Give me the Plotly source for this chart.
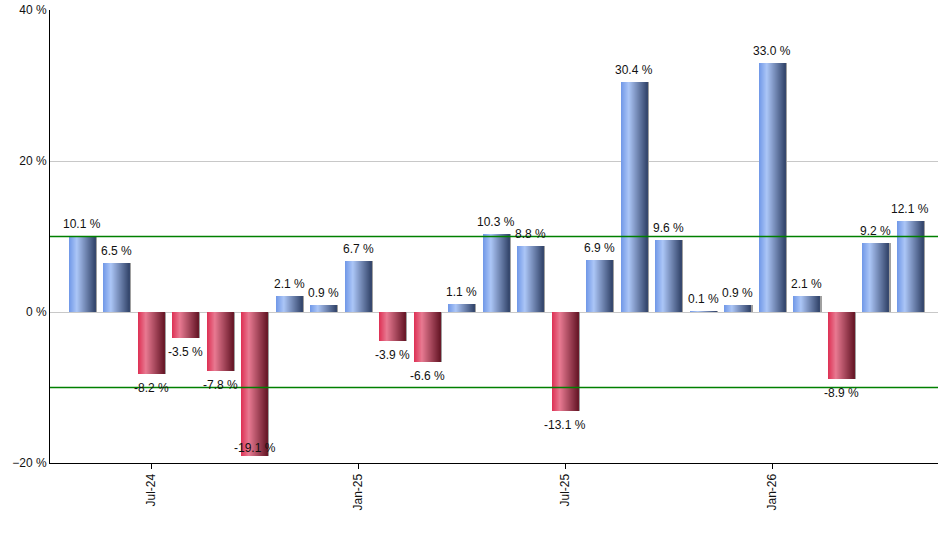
import numpy as np
import plotly.graph_objects as go

# monthly returns, May-24 .. May-26
months = ['May-24', 'Jun-24', 'Jul-24', 'Aug-24', 'Sep-24', 'Oct-24', 'Nov-24', 'Dec-24',
          'Jan-25', 'Feb-25', 'Mar-25', 'Apr-25', 'May-25', 'Jun-25', 'Jul-25', 'Aug-25',
          'Sep-25', 'Oct-25', 'Nov-25', 'Dec-25', 'Jan-26', 'Feb-26', 'Mar-26', 'Apr-26', 'May-26']
returns = [10.1, 6.5, -8.2, -3.5, -7.8, -19.1, 2.1, 0.9, 6.7, -3.9, -6.6, 1.1, 10.3, 8.8,
           -13.1, 6.9, 30.4, 9.6, 0.1, 0.9, 33.0, 2.1, -8.9, 9.2, 12.1]
tick_labels = ['Jul-24', 'Jan-25', 'Jul-25', 'Jan-26']
upper_band = 10
lower_band = -10
y_min, y_max = -20, 40

x = np.arange(len(months))
vals = np.array(returns)
tick_pos = [months.index(t) for t in tick_labels]

# gradient stops (left -> highlight -> right)
blue_stops = [(0.0, (112, 152, 232)), (0.3, (172, 198, 247)), (1.0, (52, 70, 108))]
red_stops = [(0.0, (222, 48, 84)), (0.3, (232, 122, 146)), (1.0, (104, 24, 40))]


def grad(stops, t):
    for (t0, c0), (t1, c1) in zip(stops[:-1], stops[1:]):
        if t <= t1:
            f = (t - t0) / (t1 - t0)
            return 'rgb(%d,%d,%d)' % tuple(int(a + (b - a) * f) for a, b in zip(c0, c1))
    return 'rgb(%d,%d,%d)' % stops[-1][1]


bar_w = 0.75
n_slices = 26
slice_w = bar_w / n_slices

fig = go.Figure()

# shadow
fig.add_trace(go.Bar(x=x, y=vals, width=0.07, offset=bar_w / 2 - 0.02,
                     marker=dict(color='#a0a0a0', line_width=0),
                     hoverinfo='skip', showlegend=False))

for k in range(n_slices):
    t = (k + 0.5) / n_slices
    colors = [grad(blue_stops, t) if v >= 0 else grad(red_stops, t) for v in vals]
    fig.add_trace(go.Bar(x=x, y=vals, width=slice_w * 1.6, offset=-bar_w / 2 + k * slice_w,
                         marker=dict(color=colors, line_width=0),
                         hoverinfo='skip', showlegend=False))

# green band lines
for lvl in (upper_band, lower_band):
    fig.add_trace(go.Scatter(x=[-2, len(months) + 1], y=[lvl, lvl], mode='lines',
                             line=dict(color='#008000', width=1.3),
                             hoverinfo='skip', showlegend=False))

# value labels
for xi, v in zip(x, vals):
    txt = '%.1f %%' % v
    if v >= 0:
        fig.add_annotation(x=xi, y=v, text=txt, showarrow=False, yanchor='bottom', yshift=3)
    elif v < y_min + 3:
        fig.add_annotation(x=xi, y=y_min, text=txt, showarrow=False, yanchor='bottom', yshift=6)
    else:
        fig.add_annotation(x=xi, y=v, text=txt, showarrow=False, yanchor='top', yshift=-5)

fig.update_layout(
    width=940, height=550,
    margin=dict(l=50, r=2, t=10, b=87),
    plot_bgcolor='white', paper_bgcolor='white',
    barmode='overlay', bargap=0,
    font=dict(family='Liberation Sans', size=12, color='#111111'),
    xaxis=dict(range=[-0.93, 24.8], tickmode='array', tickvals=tick_pos, ticktext=tick_labels,
               tickangle=-90, ticks='outside', ticklen=5, tickcolor='black',
               showline=True, linecolor='black', linewidth=1, showgrid=False, zeroline=False),
    yaxis=dict(range=[y_min, y_max], dtick=20, ticksuffix=' %', showgrid=True, gridcolor='#c8c8c8',
               zeroline=True, zerolinecolor='#c8c8c8', zerolinewidth=1,
               showline=True, linecolor='black', linewidth=1, ticks=''),
)

# drop the default page margin so the figure sits at the window's corner
fig.write_html("out.html", config={'displayModeBar': False},
               post_script="document.body.style.margin='0';")
